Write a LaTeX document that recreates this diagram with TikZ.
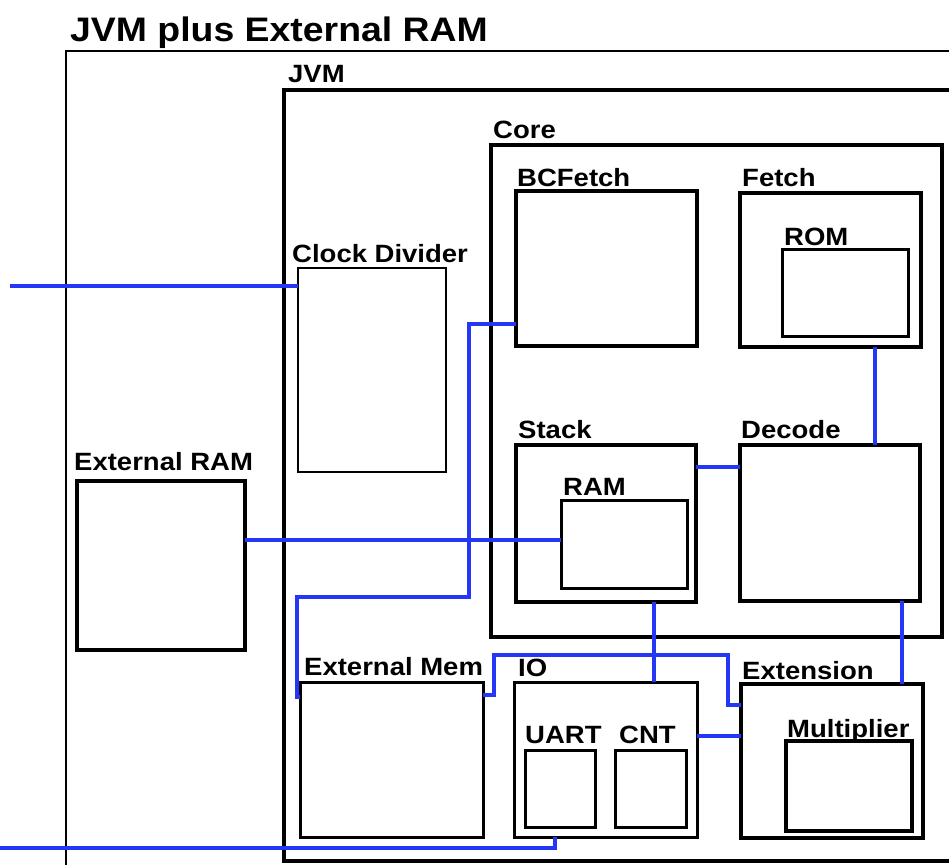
\documentclass[tikz,border=0pt]{standalone}
\usepackage{fontspec}
\setmainfont{Liberation Sans}[FakeStretch=1.1]
\definecolor{wireblue}{RGB}{35,55,245}
\tikzset{
	blk/.style={draw, line width=#1, inner sep=0pt, outer sep=0pt, anchor=north west},
	lbl/.style={anchor=base west, inner sep=0pt, font=\bfseries\fontsize{25}{30}\selectfont},
	wire/.style={draw=wireblue, line width=3.5pt}
}
\begin{document}
\begin{tikzpicture}[x=1pt, y=-1pt]
		\useasboundingbox (0,0) rectangle (949,864);
		\clip (0,0) rectangle (949,864);
		
		% Outer frame
		\node[blk=2.5pt, minimum width=934, minimum height=949] (top) at (66,51) {};
		\node[lbl, font=\bfseries\fontsize{34}{40}\selectfont] (toplbl) at (70,42) {JVM plus External RAM};
		
		% JVM
		\node[blk=4.5pt, minimum width=716, minimum height=771] (jvm) at (284,90) {};
		\node[lbl] (jvmlbl) at (288,83) {JVM};
		
		% Core
		\node[blk=4.5pt, minimum width=451, minimum height=492] (core) at (491,145) {};
		\node[lbl] (corelbl) at (493,139) {Core};
		\node[blk=4pt, minimum width=181, minimum height=155] (bcfetch) at (516,191) {};
		\node[lbl] (bcfetchlbl) at (517,186) {BCFetch};
		\node[blk=4pt, minimum width=181, minimum height=154] (fetch) at (740,193) {};
		\node[lbl] (fetchlbl) at (742,186) {Fetch};
		\node[blk=3pt, minimum width=126, minimum height=87] (rom) at (782,249) {};
		\node[lbl] (romlbl) at (784,245) {ROM};
		\node[blk=4pt, minimum width=180, minimum height=157] (stack) at (516,445) {};
		\node[lbl] (stacklbl) at (518,438) {Stack};
		\node[blk=3pt, minimum width=126, minimum height=88] (ram) at (561,500) {};
		\node[lbl] (ramlbl) at (563,495) {RAM};
		\node[blk=4pt, minimum width=180, minimum height=156] (decode) at (740,445) {};
		\node[lbl] (decodelbl) at (741,438) {Decode};
		
		% Clock divider
		\node[blk=1.2pt, minimum width=148, minimum height=204] (clkdiv) at (298,268) {};
		\node[lbl] (clkdivlbl) at (292,262) {Clock Divider};
		
		% External RAM
		\node[blk=3.5pt, minimum width=168, minimum height=169] (extram) at (77,481) {};
		\node[lbl] (extramlbl) at (74,470) {External RAM};
		
		% Bottom row
		\node[blk=3pt, minimum width=183, minimum height=155] (extmem) at (300,682) {};
		\node[lbl] (extmemlbl) at (304,675) {External Mem};
		\node[blk=3pt, minimum width=183, minimum height=155] (io) at (514,682) {};
		\node[lbl] (iolbl) at (518,676) {IO};
		\node[blk=3pt, minimum width=70, minimum height=77] (uart) at (525,750) {};
		\node[lbl] (uartlbl) at (525,743) {UART};
		\node[blk=3pt, minimum width=71, minimum height=77] (cnt) at (615,750) {};
		\node[lbl] (cntlbl) at (619,743) {CNT};
		\node[blk=4pt, minimum width=182, minimum height=154] (ext) at (741,684) {};
		\node[lbl] (extlbl) at (742,679) {Extension};
		\node[blk=3.5pt, minimum width=126, minimum height=90] (mult) at (786,741) {};
		\node[lbl] (multlbl) at (787,737) {Multiplier};
		
		% Wires
		\coordinate (clkin) at (10,286);
		\coordinate (memin) at (0,848);
		\draw[wire] (clkin) -- (clkin -| clkdiv.west);
		\draw[wire] (bcfetch.west |- 0,324) -| (469,597) -| (297,697) -- (extmem.west |- 0,697);
		\draw[wire] (extram.east |- 0,540) -- (ram.west |- 0,540);
		\draw[wire] (stack.east |- 0,467) -- (decode.west |- 0,467);
		\draw[wire] (fetch.south -| 875,0) -- (decode.north -| 875,0);
		\draw[wire] (stack.south -| 654,0) -- (io.north -| 654,0);
		\draw[wire] (decode.south -| 902,0) -- (ext.north -| 902,0);
		\draw[wire] (extmem.east |- 0,695) -| (494,655) -| (728,705) -- (ext.west |- 0,705);
		\draw[wire] (io.east |- 0,736) -- (ext.west |- 0,736);
		\draw[wire] (memin) -| (io.south -| 555,0);
	\end{tikzpicture}
\end{document}
